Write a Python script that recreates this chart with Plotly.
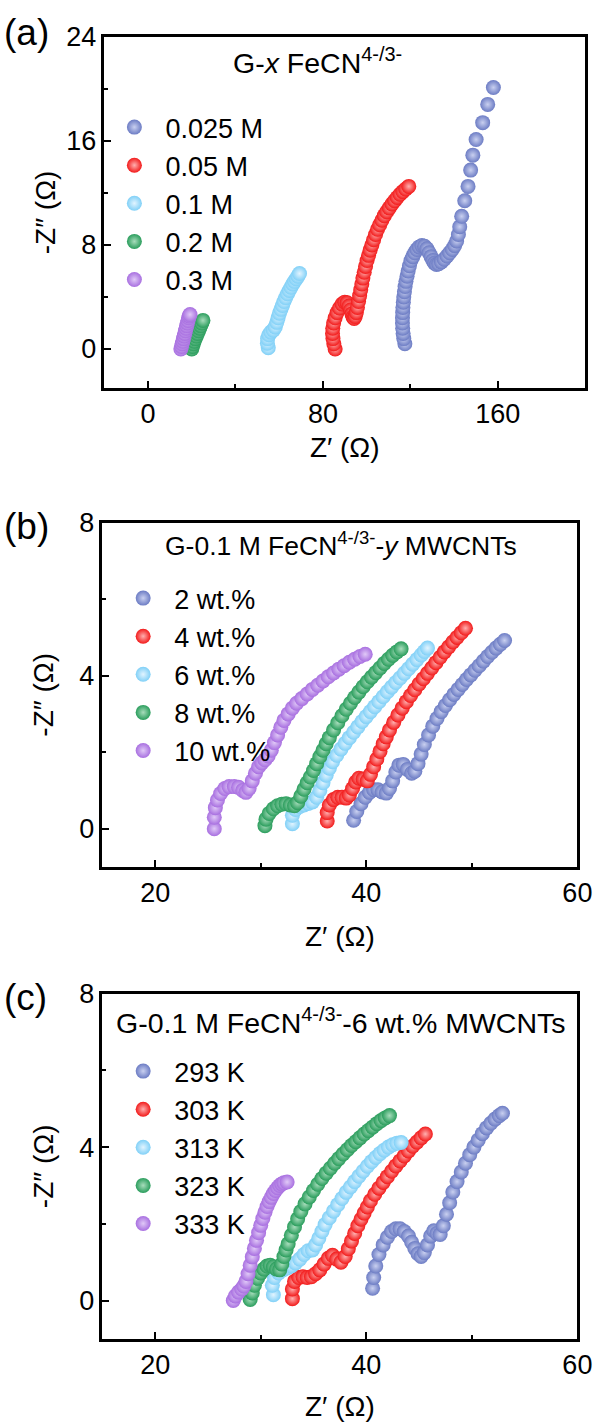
import plotly.graph_objects as go

# ---------------- data ----------------
# Panel (a): G-x FeCN4-/3-
a_names = ["0.025 M", "0.05 M", "0.1 M", "0.2 M", "0.3 M"]
a_x_0025 = [117.5, 117.0, 116.7, 116.5, 116.4, 116.4, 116.5, 116.6, 116.8, 117.0, 117.3, 117.6, 118.0, 118.5, 119.0, 119.6, 120.3, 121.1, 122.0, 123.0, 124.1, 125.3, 126.5, 127.6, 128.6, 129.5, 130.3, 131.1, 132.0, 133.0, 134.2, 135.5, 136.8, 138.0, 139.2, 140.3, 141.2, 142.0, 142.6, 143.5, 144.9, 146.4, 147.6, 148.6, 150.1, 153.1, 155.4, 158.0]
a_y_0025 = [0.4, 0.8, 1.2, 1.6, 2.0, 2.4, 2.8, 3.2, 3.6, 4.0, 4.4, 4.8, 5.2, 5.6, 6.0, 6.4, 6.8, 7.1, 7.4, 7.65, 7.85, 7.95, 7.9, 7.7, 7.4, 7.1, 6.8, 6.6, 6.5, 6.55, 6.7, 6.9, 7.15, 7.4, 7.65, 7.95, 8.3, 8.8, 9.4, 10.2, 11.4, 12.5, 13.75, 14.9, 16.1, 17.4, 18.8, 20.1]
a_x_005 = [85.6, 85.0, 84.6, 84.4, 84.5, 84.9, 85.6, 86.5, 87.6, 88.8, 90.0, 91.1, 92.0, 92.7, 93.3, 93.8, 94.3, 94.8, 95.3, 95.8, 96.3, 96.8, 97.3, 97.8, 98.3, 98.9, 99.5, 100.2, 100.9, 101.6, 102.4, 103.2, 104.1, 105.0, 106.0, 107.0, 108.1, 109.2, 110.4, 111.6, 112.8, 114.0, 115.3, 116.6, 117.9, 119.3]
a_y_005 = [0.0, 0.4, 0.8, 1.2, 1.6, 2.0, 2.4, 2.8, 3.15, 3.45, 3.6, 3.55, 3.3, 3.0, 2.7, 2.45, 2.35, 2.5, 2.8, 3.2, 3.65, 4.1, 4.55, 5.0, 5.45, 5.9, 6.35, 6.8, 7.2, 7.6, 8.0, 8.4, 8.8, 9.2, 9.55, 9.9, 10.25, 10.55, 10.85, 11.15, 11.4, 11.65, 11.9, 12.1, 12.3, 12.5]
a_x_01 = [55.0, 54.6, 54.7, 55.3, 56.2, 57.3, 58.2, 58.9, 59.5, 60.1, 60.8, 61.5, 62.2, 63.0, 63.8, 64.6, 65.4, 66.2, 67.0, 67.8, 68.6, 69.3]
a_y_01 = [0.1, 0.45, 0.8, 1.1, 1.3, 1.45, 1.7, 2.05, 2.4, 2.75, 3.05, 3.35, 3.65, 3.95, 4.25, 4.5, 4.75, 5.0, 5.2, 5.4, 5.6, 5.8]
a_x_02 = [20.0, 20.3, 20.7, 21.1, 21.6, 22.1, 22.6, 23.1, 23.6, 24.1, 24.6, 25.1]
a_y_02 = [0.0, 0.2, 0.4, 0.6, 0.8, 1.0, 1.2, 1.4, 1.6, 1.8, 2.0, 2.2]
a_x_03 = [15.0, 15.3, 15.6, 15.9, 16.2, 16.5, 16.8, 17.1, 17.4, 17.7, 18.0, 18.3, 18.6, 18.9, 19.2]
a_y_03 = [0.0, 0.2, 0.4, 0.6, 0.8, 1.0, 1.2, 1.4, 1.6, 1.8, 2.0, 2.2, 2.4, 2.55, 2.65]

# Panel (b): G-0.1 M FeCN4-/3- - y MWCNTs
b_names = ["2 wt.%", "4 wt.%", "6 wt.%", "8 wt.%", "10 wt.%"]
b_x_2 = [38.8, 39.1, 39.5, 39.9, 40.3, 40.7, 41.1, 41.5, 41.9, 42.2, 42.5, 42.8, 43.1, 43.5, 43.9, 44.3, 44.6, 44.9, 45.2, 45.5, 45.9, 46.3, 46.7, 47.1, 47.5, 47.9, 48.3, 48.7, 49.1, 49.5, 49.9, 50.3, 50.7, 51.1, 51.5, 51.9, 52.3, 52.7, 53.1]
b_y_2 = [0.22, 0.45, 0.65, 0.82, 0.95, 1.02, 1.02, 0.96, 0.93, 1.05, 1.25, 1.48, 1.66, 1.68, 1.55, 1.45, 1.5, 1.7, 1.95, 2.2, 2.45, 2.68, 2.88, 3.06, 3.22, 3.37, 3.51, 3.64, 3.77, 3.9, 4.02, 4.14, 4.26, 4.38, 4.5, 4.61, 4.72, 4.82, 4.92]
b_x_4 = [36.3, 36.3, 36.5, 36.9, 37.3, 37.7, 38.1, 38.4, 38.7, 39.0, 39.3, 39.7, 40.1, 40.4, 40.7, 41.0, 41.3, 41.6, 41.9, 42.2, 42.6, 43.0, 43.4, 43.8, 44.2, 44.6, 45.0, 45.4, 45.8, 46.2, 46.6, 47.0, 47.4, 47.8, 48.2, 48.6, 49.0, 49.4]
b_y_4 = [0.2, 0.42, 0.62, 0.76, 0.82, 0.82, 0.8, 0.88, 1.05, 1.22, 1.32, 1.3, 1.25, 1.42, 1.62, 1.82, 2.02, 2.22, 2.4, 2.58, 2.78, 2.97, 3.15, 3.32, 3.48, 3.63, 3.78, 3.92, 4.06, 4.2, 4.34, 4.48, 4.62, 4.75, 4.88, 5.0, 5.12, 5.24]
b_x_6 = [33.0, 33.0, 33.3, 33.7, 34.1, 34.5, 34.9, 35.3, 35.6, 35.9, 36.2, 36.5, 36.8, 37.2, 37.6, 38.0, 38.4, 38.8, 39.2, 39.6, 40.0, 40.4, 40.8, 41.2, 41.6, 42.0, 42.4, 42.8, 43.2, 43.6, 44.0, 44.4, 44.8, 45.2, 45.5, 45.8]
b_y_6 = [0.13, 0.35, 0.5, 0.58, 0.62, 0.66, 0.7, 0.82, 1.0, 1.2, 1.4, 1.58, 1.75, 1.92, 2.08, 2.23, 2.38, 2.52, 2.66, 2.8, 2.93, 3.06, 3.19, 3.32, 3.45, 3.58, 3.7, 3.82, 3.94, 4.06, 4.18, 4.3, 4.42, 4.54, 4.63, 4.72]
b_x_8 = [30.4, 30.5, 30.8, 31.2, 31.6, 32.0, 32.4, 32.8, 33.2, 33.5, 33.8, 34.1, 34.4, 34.7, 35.0, 35.3, 35.6, 35.9, 36.2, 36.5, 36.9, 37.3, 37.7, 38.1, 38.5, 38.9, 39.3, 39.7, 40.1, 40.5, 40.9, 41.3, 41.7, 42.1, 42.5, 42.9, 43.3]
b_y_8 = [0.08, 0.25, 0.4, 0.52, 0.6, 0.64, 0.65, 0.62, 0.6, 0.68, 0.85, 1.03, 1.2, 1.35, 1.52, 1.7, 1.88, 2.05, 2.22, 2.38, 2.58, 2.77, 2.95, 3.12, 3.28, 3.43, 3.57, 3.71, 3.84, 3.96, 4.08, 4.2, 4.32, 4.43, 4.53, 4.62, 4.7]
b_x_10 = [25.6, 25.6, 25.7, 25.9, 26.2, 26.6, 27.0, 27.5, 27.9, 28.3, 28.6, 28.9, 29.2, 29.5, 29.8, 30.1, 30.4, 30.7, 31.0, 31.3, 31.6, 31.9, 32.2, 32.6, 33.0, 33.4, 33.9, 34.4, 34.9, 35.4, 35.9, 36.4, 36.9, 37.4, 37.9, 38.4, 38.9, 39.4, 39.9]
b_y_10 = [0.0, 0.3, 0.55, 0.75, 0.92, 1.05, 1.1, 1.1, 1.08, 1.0, 0.95, 1.05, 1.25, 1.45, 1.62, 1.72, 1.8, 1.9, 2.05, 2.25, 2.45, 2.65, 2.83, 3.0, 3.15, 3.28, 3.4, 3.52, 3.64, 3.75, 3.86, 3.97, 4.07, 4.17, 4.26, 4.35, 4.43, 4.5, 4.56]

# Panel (c): G-0.1 M FeCN4-/3- - 6 wt.% MWCNTs at temperatures
c_names = ["293 K", "303 K", "313 K", "323 K", "333 K"]
c_x_293 = [40.6, 40.7, 40.9, 41.2, 41.6, 42.0, 42.4, 42.8, 43.2, 43.6, 44.0, 44.3, 44.6, 44.9, 45.2, 45.5, 45.8, 46.1, 46.4, 46.7, 47.0, 47.3, 47.6, 47.9, 48.2, 48.6, 49.0, 49.4, 49.8, 50.2, 50.6, 51.0, 51.4, 51.8, 52.2, 52.6, 52.9]
c_y_293 = [0.32, 0.6, 0.9, 1.2, 1.45, 1.65, 1.8, 1.87, 1.87, 1.8, 1.68, 1.52, 1.36, 1.22, 1.15, 1.25, 1.45, 1.68, 1.82, 1.75, 1.72, 1.95, 2.25, 2.55, 2.83, 3.1, 3.35, 3.58, 3.8, 4.0, 4.18, 4.35, 4.5, 4.62, 4.73, 4.82, 4.88]
c_x_303 = [33.0, 33.0, 33.2, 33.6, 34.0, 34.4, 34.8, 35.2, 35.6, 36.0, 36.4, 36.8, 37.2, 37.6, 38.0, 38.3, 38.6, 38.9, 39.2, 39.5, 39.8, 40.1, 40.4, 40.8, 41.2, 41.6, 42.0, 42.4, 42.8, 43.2, 43.6, 44.0, 44.4, 44.8, 45.2, 45.6]
c_y_303 = [0.05, 0.3, 0.5, 0.6, 0.62, 0.6, 0.62, 0.7, 0.8, 0.95, 1.1, 1.18, 1.08, 1.0, 1.15, 1.35, 1.55, 1.75, 1.95, 2.12, 2.28, 2.44, 2.6, 2.77, 2.93, 3.08, 3.23, 3.37, 3.51, 3.64, 3.77, 3.9, 4.02, 4.13, 4.24, 4.34]
c_x_313 = [31.2, 31.1, 31.3, 31.7, 32.1, 32.5, 32.9, 33.3, 33.7, 34.1, 34.5, 34.9, 35.2, 35.5, 35.8, 36.1, 36.5, 36.9, 37.3, 37.7, 38.1, 38.5, 38.9, 39.3, 39.7, 40.1, 40.5, 40.9, 41.3, 41.7, 42.1, 42.5, 42.9, 43.3]
c_y_313 = [0.15, 0.4, 0.6, 0.72, 0.8, 0.85, 0.9, 0.98, 1.08, 1.2, 1.3, 1.32, 1.45, 1.62, 1.8, 1.98, 2.16, 2.33, 2.5, 2.66, 2.82, 2.96, 3.1, 3.24, 3.37, 3.5, 3.62, 3.73, 3.83, 3.92, 4.0, 4.06, 4.1, 4.12]
c_x_323 = [29.0, 29.2, 29.4, 29.7, 30.0, 30.3, 30.6, 30.9, 31.2, 31.5, 31.8, 32.0, 32.2, 32.4, 32.6, 32.9, 33.2, 33.5, 33.8, 34.2, 34.6, 35.0, 35.4, 35.8, 36.2, 36.6, 37.0, 37.4, 37.8, 38.2, 38.6, 39.0, 39.4, 39.8, 40.2, 40.6, 41.0, 41.4, 41.8, 42.2]
c_y_323 = [0.03, 0.2, 0.4, 0.58, 0.72, 0.82, 0.9, 0.92, 0.88, 0.82, 0.8, 0.95, 1.15, 1.32, 1.48, 1.7, 1.92, 2.13, 2.32, 2.52, 2.7, 2.87, 3.03, 3.18, 3.32, 3.45, 3.58, 3.7, 3.82, 3.93, 4.04, 4.14, 4.24, 4.34, 4.43, 4.52, 4.61, 4.69, 4.76, 4.82]
c_x_333 = [27.4, 27.6, 27.9, 28.2, 28.4, 28.6, 28.8, 29.0, 29.2, 29.4, 29.6, 29.8, 30.0, 30.2, 30.4, 30.6, 30.8, 31.0, 31.2, 31.4, 31.6, 31.8, 32.0, 32.2, 32.5]
c_y_333 = [0.0, 0.12, 0.22, 0.3, 0.38, 0.5, 0.7, 0.92, 1.14, 1.36, 1.57, 1.77, 1.96, 2.14, 2.3, 2.45, 2.58, 2.69, 2.79, 2.87, 2.94, 3.0, 3.04, 3.07, 3.09]

# ---------------- styling ----------------
W, H = 607, 1427
FONT = "Arial, Liberation Sans, sans-serif"
colors = ["#6C7CC4", "#F21A1A", "#80D0F7", "#2A9D5C", "#A86FE0"]
glows = ["#C9D0F0", "#FFB0B0", "#E2F4FF", "#A8DDBC", "#E0C9F7"]


def px_x(p):
    return p / W


def px_y(p):
    return 1 - p / H


panels = [
    dict(xd=(107, 600), yd=(22, 377), xr=[-20, 200], yr=[-3, 24],
         xt=[0, 80, 160], xm=40, yt=[0, 8, 16, 24], ym=4,
         names=a_names,
         xs=[a_x_0025, a_x_005, a_x_01, a_x_02, a_x_03],
         ys=[a_y_0025, a_y_005, a_y_01, a_y_02, a_y_03],
         label="(a)", label_y=0, label_anchor="top", label_shift=5,
         title="G-<i>x</i> FeCN<sup>4-/3-</sup>", title_x=326, title_y=46, title_size=28.5,
         leg_x=106, leg_y=89, ystand=3, xstand=10),
    dict(xd=(105, 592), yd=(513, 861), xr=[15, 60], yr=[-1, 8],
         xt=[20, 40, 60], xm=10, yt=[0, 4, 8], ym=2,
         names=b_names,
         xs=[b_x_2, b_x_4, b_x_6, b_x_8, b_x_10],
         ys=[b_y_2, b_y_4, b_y_6, b_y_8, b_y_10],
         label="(b)", label_y=517, label_anchor="middle", label_shift=0,
         title="G-0.1 M FeCN<sup>4-/3-</sup>-<i>y</i> MWCNTs", title_x=350, title_y=535, title_size=26.5,
         leg_x=115, leg_y=565, ystand=18, xstand=20),
    dict(xd=(105, 592), yd=(989, 1338), xr=[15, 60], yr=[-1, 8],
         xt=[20, 40, 60], xm=10, yt=[0, 4, 8], ym=2,
         names=c_names,
         xs=[c_x_293, c_x_303, c_x_313, c_x_323, c_x_333],
         ys=[c_y_293, c_y_303, c_y_313, c_y_323, c_y_333],
         label="(c)", label_y=993, label_anchor="middle", label_shift=0,
         title="G-0.1 M FeCN<sup>4-/3-</sup>-6 wt.% MWCNTs", title_x=350, title_y=1017, title_size=28.5,
         leg_x=115, leg_y=1043, ystand=18, xstand=18),
]

fig = go.Figure()
annotations = []
layout_axes = {}

for i, p in enumerate(panels):
    k = "" if i == 0 else str(i + 1)
    xa, ya = "x" + k, "y" + k
    leg = "legend" + k
    for j in range(5):
        fig.add_trace(go.Scatter(
            x=p["xs"][j], y=p["ys"][j], mode="markers", name=p["names"][j],
            xaxis=xa, yaxis=ya, legend=leg,
            marker=dict(size=15, color=colors[j], line=dict(width=0),
                        gradient=dict(type="radial", color=glows[j])),
        ))
    common = dict(showline=True, linewidth=2.5, linecolor="black", mirror=True,
                  ticks="inside", ticklen=7, tickwidth=2, tickcolor="black",
                  showgrid=False, zeroline=False, ticklabeloverflow="allow",
                  tickfont=dict(family=FONT, size=27, color="black"))
    layout_axes["xaxis" + k] = dict(
        common, domain=[px_x(p["xd"][0]), px_x(p["xd"][1])], range=p["xr"],
        tickvals=p["xt"], anchor=ya,
        minor=dict(dtick=p["xm"], tick0=0, ticks="inside", ticklen=4, tickwidth=2, tickcolor="black"),
        title=dict(text="Z′ (Ω)", font=dict(family=FONT, size=28, color="black"), standoff=p["xstand"]),
    )
    layout_axes["yaxis" + k] = dict(
        common, domain=[px_y(p["yd"][1]), px_y(p["yd"][0])], range=p["yr"],
        tickvals=p["yt"], anchor=xa,
        minor=dict(dtick=p["ym"], tick0=0, ticks="inside", ticklen=4, tickwidth=2, tickcolor="black"),
        title=dict(text="-Z″ (Ω)", font=dict(family=FONT, size=28, color="black"), standoff=p["ystand"]),
    )
    layout_axes[leg] = dict(
        x=px_x(p["leg_x"]), y=px_y(p["leg_y"]), xanchor="left", yanchor="top",
        bgcolor="rgba(0,0,0,0)", itemwidth=52,
        font=dict(family=FONT, size=27, color="black"),
    )
    annotations.append(dict(
        text=p["label"], x=px_x(2), y=px_y(p["label_y"]), xref="paper", yref="paper",
        xanchor="left", yanchor=p["label_anchor"], yshift=p["label_shift"], showarrow=False,
        font=dict(family=FONT, size=37, color="black")))
    annotations.append(dict(
        text=p["title"], x=px_x(p["title_x"]), y=px_y(p["title_y"]), xref="paper", yref="paper",
        xanchor="center", yanchor="middle", showarrow=False,
        font=dict(family=FONT, size=p["title_size"], color="black")))

fig.update_layout(
    width=W, height=H, margin=dict(l=0, r=0, t=0, b=0),
    paper_bgcolor="white", plot_bgcolor="white",
    showlegend=True, annotations=annotations, **layout_axes,
)

fig.write_html("out.html")
